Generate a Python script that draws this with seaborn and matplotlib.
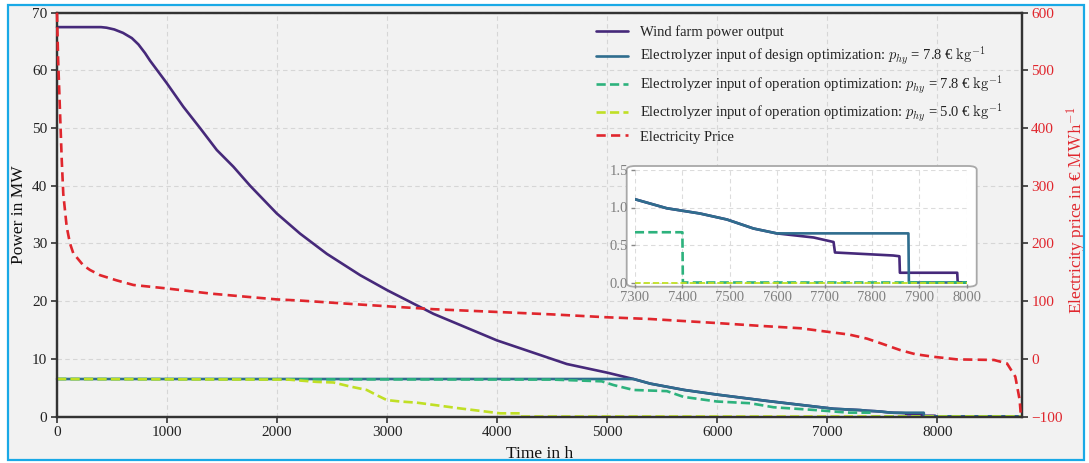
import numpy as np
import pandas as pd
import seaborn as sns
import matplotlib
matplotlib.use("Agg")
import matplotlib.pyplot as plt
from matplotlib.patches import Rectangle, FancyBboxPatch

# ---------------- data ----------------
wind_h = [0, 400, 450, 520, 600, 680, 740, 800, 845, 997, 1148, 1300, 1452, 1603, 1755, 1997, 2209, 2452,
          2755, 3000, 3421, 3997, 4633, 5000, 5239, 5391, 5700, 5997, 6452, 7058, 7300, 7367,
          7437, 7494, 7550, 7599, 7677, 7719, 7722, 7845, 7858, 7859, 7980, 7981, 8760]
wind_p = [67.5, 67.5, 67.4, 67.1, 66.5, 65.6, 64.5, 63.0, 61.7, 57.8, 53.7, 50.0, 46.2, 43.3, 40.0, 35.2, 31.7, 28.2,
          24.5, 21.9, 17.8, 13.2, 9.1, 7.6, 6.5, 5.7, 4.6, 3.8, 2.7, 1.34, 1.11, 0.99,
          0.92, 0.84, 0.72, 0.655, 0.60, 0.54, 0.40, 0.36, 0.35, 0.13, 0.13, 0.0, 0.0]

design_h = [0, 5239, 5391, 5700, 5997, 6452, 7058, 7300, 7367, 7437, 7494, 7550, 7599, 7877, 7878, 8760]
design_p = [6.5, 6.5, 5.7, 4.6, 3.8, 2.7, 1.34, 1.11, 0.99, 0.92, 0.84, 0.72, 0.655, 0.655, 0.0, 0.0]

op78_h = [0, 4500, 4950, 5058, 5239, 5542, 5694, 5997, 6300, 6512, 6906, 7100, 7200, 7400, 7401, 8760]
op78_p = [6.5, 6.4, 6.1, 5.45, 4.6, 4.4, 3.4, 2.6, 2.3, 1.6, 1.1, 0.8, 0.67, 0.67, 0.0, 0.0]

op50_h = [0, 2100, 2361, 2512, 2664, 2815, 2906, 2997, 3118, 3270, 3664, 4027, 4209, 4210, 8760]
op50_p = [6.5, 6.4, 6.0, 5.9, 5.2, 4.6, 3.7, 2.85, 2.6, 2.4, 1.4, 0.55, 0.55, 0.0, 0.0]

price_h = [0, 10, 27, 43, 57, 88, 118, 148, 239, 300, 391, 542, 694, 997, 1400, 1755, 1997, 2209,
           2600, 3088, 3421, 4027, 4500, 4997, 5391, 5997, 6400, 6755, 6997, 7200, 7361, 7500,
           7664, 7800, 7967, 8179, 8515, 8633, 8709, 8748, 8760]
price_v = [600, 520, 430, 345, 286, 229, 200, 183, 162, 154, 145, 136, 128, 122, 113, 107, 103, 101,
           96, 90, 86, 81, 77, 72, 69, 62, 57, 53, 47, 42, 35, 26,
           15, 8, 3.5, -1, -2, -8, -31, -71, -100]

x_ticks = [0, 1000, 2000, 3000, 4000, 5000, 6000, 7000, 8000]
y_ticks = [0, 10, 20, 30, 40, 50, 60, 70]
y2_ticks = [-100, 0, 100, 200, 300, 400, 500, 600]
inset_xticks = [7300, 7400, 7500, 7600, 7700, 7800, 7900, 8000]
inset_yticks = [0.0, 0.5, 1.0, 1.5]

labels = ["Wind farm power output",
          r"Electrolyzer input of design optimization: $p_{hy}$ = 7.8 € $\mathrm{kg}^{-1}$",
          r"Electrolyzer input of operation optimization: $p_{hy}$ = 7.8 € $\mathrm{kg}^{-1}$",
          r"Electrolyzer input of operation optimization: $p_{hy}$ = 5.0 € $\mathrm{kg}^{-1}$",
          "Electricity Price"]

# ---------------- style ----------------
sns.set_theme(style="whitegrid")
plt.rcParams["font.family"] = ["Liberation Serif", "DejaVu Serif"]
plt.rcParams["mathtext.fontset"] = "cm"
plt.rcParams["axes.unicode_minus"] = True

C_WIND = "#46297a"
C_DES = "#2f6d8e"
C_OP78 = "#2db27d"
C_OP50 = "#c0df25"
C_PRICE = "#e0262d"
BG = "#f2f2f2"
DARK = "#333333"

fig = plt.figure(figsize=(10.89, 4.63), dpi=100)
fig.patch.set_facecolor("white")
fig.patches.append(Rectangle((8 / 1089, 3 / 463), 1076 / 1089, 456 / 463, transform=fig.transFigure,
                             facecolor=BG, edgecolor="none", zorder=-10))

ax = fig.add_axes([57 / 1089, 46.5 / 463, 964.5 / 1089, 403.8 / 463])
ax.set_facecolor(BG)

def draw(axis, h, v, color, ls, lw, label=None, clip=True):
    df = pd.DataFrame({"h": h, "v": v})
    sns.lineplot(data=df, x="h", y="v", ax=axis, color=color, linestyle=ls, linewidth=lw,
                 estimator=None, sort=False, label=label, legend=False)
    line = axis.get_lines()[-1]
    if not clip:
        line.set_clip_on(False)
        line.set_zorder(3)
    return line

draw(ax, wind_h, wind_p, C_WIND, "-", 1.9, labels[0], clip=False)
draw(ax, design_h, design_p, C_DES, "-", 1.9, labels[1], clip=False)
draw(ax, op78_h, op78_p, C_OP78, (0, (3.5, 1.6)), 1.9, labels[2], clip=False)
draw(ax, op50_h, op50_p, C_OP50, (0, (3.5, 1.6)), 1.9, labels[3], clip=False)

ax.set_xlim(0, 8765)
ax.set_ylim(0, 70)
ax.set_xticks(x_ticks)
ax.set_yticks(y_ticks)
ax.grid(True, linestyle=(0, (4, 3)), color="#d6d6d6", linewidth=0.8)
for s in ax.spines.values():
    s.set_color(DARK)
    s.set_linewidth(1.6)
ax.tick_params(axis="both", which="major", direction="out", length=4, width=1.2, color=DARK,
               labelsize=11, labelcolor="#222222", pad=3)
ax.tick_params(axis="x", bottom=True)
ax.tick_params(axis="y", left=True)
ax.set_xlabel("Time in h", fontsize=12.5, color="#111111")
ax.set_ylabel("Power in MW", fontsize=12.5, color="#111111")
ax.xaxis.set_label_coords(0.5, -0.094)
ax.xaxis.label.set_va("center")
ax.yaxis.set_label_coords(-0.0395, 0.5)
ax.yaxis.label.set_va("center")

ax2 = ax.twinx()
draw(ax2, price_h, price_v, C_PRICE, (0, (3.5, 2.0)), 1.9, labels[4], clip=False)
ax2.set_ylim(-100, 600)
ax2.set_yticks(y2_ticks)
ax2.grid(False)
for s in ax2.spines.values():
    s.set_color(DARK)
    s.set_linewidth(1.6)
ax2.tick_params(axis="y", direction="out", length=4, width=1.2, color=DARK, labelsize=11,
                labelcolor=C_PRICE, right=True, pad=3)
ax2.set_ylabel(r"Electricity price in € $\mathrm{MWh}^{-1}$", fontsize=12.5, color=C_PRICE)
ax2.yaxis.set_label_coords(1.057, 0.51)
ax2.yaxis.label.set_va("center")

h1, l1 = ax.get_legend_handles_labels()
h2, l2 = ax2.get_legend_handles_labels()
leg = ax2.legend(h1 + h2, l1 + l2, loc="upper left", bbox_to_anchor=(0.542, 0.958),
                 bbox_transform=fig.transFigure, frameon=False, fontsize=10.5,
                 labelspacing=0.42, handlelength=2.2, handletextpad=0.8, borderaxespad=0)
for t in leg.get_texts():
    t.set_color("#222222")

# ---------------- inset ----------------
box = FancyBboxPatch((626.7 / 1089, (463 - 286.7) / 463), 350 / 1089, 120.7 / 463,
                     boxstyle="round,pad=0,rounding_size=0.008", transform=fig.transFigure,
                     facecolor="white", edgecolor="#a8a8a8", linewidth=1.3, zorder=4)
fig.patches.append(box)
axi = fig.add_axes([635 / 1089, (463 - 284) / 463, 331.7 / 1089, 114 / 463], zorder=5)
axi.set_facecolor("none")
draw(axi, wind_h, wind_p, C_WIND, "-", 1.9)
draw(axi, design_h, design_p, C_DES, "-", 1.9)
draw(axi, op78_h, op78_p, C_OP78, (0, (3.5, 1.6)), 1.9)
draw(axi, op50_h, op50_p, C_OP50, (0, (3.5, 1.6)), 1.3)
axi.set_xlim(7300, 8000)
axi.set_ylim(-0.02, 1.5)
axi.set_xticks(inset_xticks)
axi.set_yticks(inset_yticks)
axi.grid(True, linestyle=(0, (4, 3)), color="#dcdcdc", linewidth=0.8)
for s in axi.spines.values():
    s.set_visible(False)
axi.tick_params(axis="both", direction="out", length=3, width=1.0, color="#888888",
                labelsize=10.5, labelcolor="#808080", pad=2, left=True, bottom=True)
axi.set_xlabel("")
axi.set_ylabel("")

# ---------------- screenshot frame ----------------
fig.patches.append(Rectangle((0, 0), 1, 3 / 463, transform=fig.transFigure,
                             facecolor="white", edgecolor="none", zorder=9))
fig.patches.append(Rectangle((8 / 1089, 3 / 463), 1076 / 1089, 455.5 / 463, transform=fig.transFigure,
                             facecolor="none", edgecolor="#19a9e6", linewidth=1.6, zorder=10))

fig.savefig("out.png", dpi=100, facecolor=fig.get_facecolor())
